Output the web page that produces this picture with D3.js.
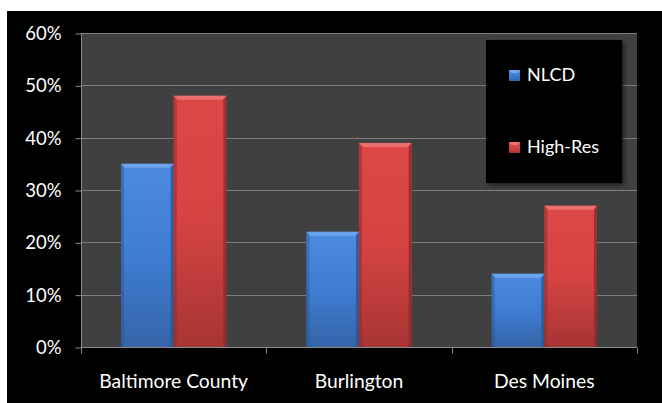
<!DOCTYPE html>
<html><head><meta charset="utf-8">
<script src="https://cdn.jsdelivr.net/npm/d3@7"></script>
<style>body{margin:0;background:#fff;}svg{display:block;}</style>
</head><body>
<svg id="c" width="662" height="403"></svg>
<script>
const categories = ["Baltimore County", "Burlington", "Des Moines"];
const seriesNames = ["NLCD", "High-Res"];
const nlcd = [0.35, 0.22, 0.14];
const highRes = [0.48, 0.39, 0.27];
const yTicks = [0, 0.1, 0.2, 0.3, 0.4, 0.5, 0.6];

const svg = d3.select("#c");
const W = 662, H = 403;
const m = {left: 81, right: 637, top: 33, bottom: 347};
const font = "Lato, 'Open Sans', sans-serif";

svg.append("rect").attr("x", 7).attr("y", 11).attr("width", W - 7).attr("height", H - 11).attr("fill", "#000");

const defs = svg.append("defs");
const colors = [
  {top: "#4d8be0", mid: "#3f7dd3", bot: "#3464a8", edge: "#2b5590", hi: "#6fa6ee"},
  {top: "#dd4747", mid: "#d54343", bot: "#a83434", edge: "#8c2a2a", hi: "#ee7272"}
];
colors.forEach((c, i) => {
  const g = defs.append("linearGradient").attr("id", "g" + i).attr("x1", 0).attr("y1", 0).attr("x2", 0).attr("y2", 1);
  g.append("stop").attr("offset", "0%").attr("stop-color", c.top);
  g.append("stop").attr("offset", "50%").attr("stop-color", c.mid);
  g.append("stop").attr("offset", "100%").attr("stop-color", c.bot);
});
const f = defs.append("filter").attr("id", "sh").attr("x", "-10%").attr("y", "-10%").attr("width", "130%").attr("height", "130%");
f.append("feDropShadow").attr("dx", 2).attr("dy", 2).attr("stdDeviation", 2).attr("flood-color", "#000").attr("flood-opacity", 0.6);

const x = d3.scaleBand().domain(categories).range([m.left, m.right]).paddingInner(0).paddingOuter(0);
const y = d3.scaleLinear().domain([0, 0.6]).range([m.bottom, m.top]);
const inner = d3.scaleBand().domain(seriesNames).range([0, x.bandwidth()]).paddingOuter(0.76).paddingInner(0);

svg.append("rect").attr("x", m.left).attr("y", m.top).attr("width", m.right - m.left).attr("height", m.bottom - m.top).attr("fill", "#404040");

// gridlines
svg.append("g").selectAll("line").data(yTicks.slice(1)).join("line")
  .attr("x1", m.left).attr("x2", m.right).attr("y1", d => Math.round(y(d)) + 0.5).attr("y2", d => Math.round(y(d)) + 0.5)
  .attr("stroke", "#7d7d7d").attr("stroke-width", 1);

// y axis
const yAxis = d3.axisLeft(y).tickValues(yTicks).tickFormat(d3.format(".0%")).tickSize(6).tickPadding(14);
const ya = svg.append("g").attr("transform", `translate(${m.left + 0.5},0.5)`).call(yAxis);
ya.selectAll("path,line").attr("stroke", "#8a8a8a");
ya.select(".domain").attr("d", `M0,${m.top}V${m.bottom}`);
ya.selectAll("text").attr("fill", "#fff").style("font-family", font).style("font-size", "18.5px");

// x axis
const xa = svg.append("g").attr("transform", `translate(0,${m.bottom + 0.5})`);
xa.append("line").attr("x1", m.left).attr("x2", m.right).attr("stroke", "#8a8a8a");
const xt = categories.map(c => x(c)).concat([m.right]);
xa.selectAll("line.t").data(xt).join("line").attr("class", "t")
  .attr("x1", d => Math.round(d) + 0.5).attr("x2", d => Math.round(d) + 0.5).attr("y1", 0).attr("y2", 6).attr("stroke", "#8a8a8a");
xa.selectAll("text").data(categories).join("text")
  .attr("x", d => x(d) + x.bandwidth() / 2).attr("y", 40).attr("text-anchor", "middle")
  .attr("fill", "#fff").style("font-family", font).style("font-size", "19.3px").text(d => d);

// bars
const data = [];
categories.forEach((c, i) => {
  data.push({cat: c, s: 0, v: nlcd[i]});
  data.push({cat: c, s: 1, v: highRes[i]});
});
const bars = svg.append("g").selectAll("g").data(data).join("g")
  .attr("transform", d => `translate(${x(d.cat) + inner(seriesNames[d.s])},0)`);
const bw = inner.bandwidth();
bars.append("rect").attr("x", 0).attr("y", d => y(d.v)).attr("width", bw).attr("height", d => y(0) - y(d.v))
  .attr("fill", d => `url(#g${d.s})`);
bars.append("path").attr("d", d => {
  const t = y(d.v);
  return `M0,${t}H${bw}L${bw - 4},${t + 4}H4Z`;
}).attr("fill", d => colors[d.s].hi).attr("opacity", 0.9);
bars.append("path").attr("d", d => {
  const t = y(d.v), b = y(0);
  return `M${bw},${t}L${bw - 3},${t + 4}V${b}H${bw}Z`;
}).attr("fill", d => colors[d.s].edge).attr("opacity", 0.8);
bars.append("path").attr("d", d => {
  const t = y(d.v), b = y(0);
  return `M0,${t}L3,${t + 4}V${b}H0Z`;
}).attr("fill", d => colors[d.s].edge).attr("opacity", 0.5);

// legend
const lg = svg.append("g");
lg.append("rect").attr("x", 486).attr("y", 40).attr("width", 136).attr("height", 143).attr("fill", "#000").attr("filter", "url(#sh)");
const items = lg.selectAll("g").data(seriesNames).join("g")
  .attr("transform", (d, i) => `translate(509,${75 + i * 72})`);
items.append("rect").attr("x", 0).attr("y", -5).attr("width", 11).attr("height", 11).attr("fill", (d, i) => `url(#g${i})`);
items.append("path").attr("d", "M0,-5H11L9,-2H2Z").attr("fill", (d, i) => colors[i].hi);
items.append("text").attr("x", 18).attr("y", 0).attr("dy", "0.35em").attr("fill", "#fff")
  .style("font-family", font).style("font-size", "18px").text(d => d);
</script>
</body></html>
